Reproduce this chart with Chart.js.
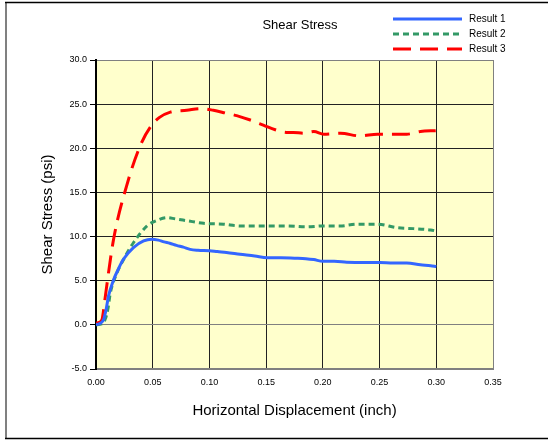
<!DOCTYPE html>
<html>
<head>
<meta charset="utf-8">
<title>Shear Stress</title>
<script src="https://cdn.jsdelivr.net/npm/chart.js@4.4.1/dist/chart.umd.min.js"></script>
<style>
  html, body { margin: 0; padding: 0; background: #fff; }
  #wrap { width: 548px; height: 440px; }
</style>
</head>
<body>
<div id="wrap"><canvas id="shearChart"></canvas></div>
<script>
// values
const seriesNames = ['Result 1', 'Result 2', 'Result 3'];

const disp1 = [0, 0.004, 0.0067, 0.009, 0.011, 0.0155, 0.02, 0.024, 0.033, 0.042, 0.049, 0.055, 0.06, 0.065, 0.071, 0.077, 0.083, 0.09, 0.1, 0.107, 0.115, 0.127, 0.14, 0.151, 0.163, 0.175, 0.185, 0.192, 0.2, 0.21, 0.221, 0.235, 0.25, 0.262, 0.274, 0.286, 0.295, 0.3];
const stress1 = [0, 0.2, 0.6, 1.8, 3.25, 5.1, 6.4, 7.4, 8.75, 9.5, 9.7, 9.6, 9.4, 9.25, 9.0, 8.8, 8.55, 8.45, 8.4, 8.3, 8.2, 8.0, 7.8, 7.6, 7.6, 7.55, 7.5, 7.4, 7.2, 7.2, 7.1, 7.05, 7.05, 7.0, 7.0, 6.8, 6.7, 6.6];

const disp2 = [0, 0.005, 0.008, 0.0105, 0.0126, 0.0185, 0.0243, 0.033, 0.045, 0.055, 0.0626, 0.07, 0.08, 0.095, 0.1125, 0.127, 0.148, 0.168, 0.185, 0.2, 0.215, 0.23, 0.248, 0.2655, 0.28, 0.295, 0.3007];
const stress2 = [0, 0.1, 0.6, 1.8, 3.6, 5.9, 7.4, 9.3, 11.2, 11.9, 12.15, 12.0, 11.8, 11.5, 11.4, 11.2, 11.2, 11.2, 11.1, 11.2, 11.2, 11.4, 11.4, 11.0, 10.9, 10.75, 10.6];

const disp3 = [0, 0.003, 0.0053, 0.0065, 0.0082, 0.0155, 0.027, 0.039, 0.049, 0.056, 0.0655, 0.08, 0.092, 0.1035, 0.114, 0.124, 0.136, 0.148, 0.158, 0.168, 0.174, 0.183, 0.192, 0.2008, 0.2155, 0.233, 0.248, 0.265, 0.274, 0.286, 0.2995];
const stress3 = [0.2, 0.3, 0.6, 1.5, 3.2, 9.7, 15.75, 20.3, 22.6, 23.5, 24.1, 24.3, 24.5, 24.3, 24.0, 23.7, 23.2, 22.6, 22.1, 21.8, 21.8, 21.7, 21.9, 21.6, 21.7, 21.4, 21.6, 21.6, 21.6, 21.9, 22.0];

const xTickMin = 0, xTickMax = 0.35, xTickStep = 0.05;
const yTickMin = -5, yTickMax = 30, yTickStep = 5;

const FONT = '"Liberation Sans", Arial, sans-serif';

function toPoints(xs, ys) {
    return xs.map((x, i) => ({ x: x, y: ys[i] }));
}

// plot background, title, legend and outer frame
const decorPlugin = {
    id: 'decor',
    beforeDraw(chart) {
        const { ctx, chartArea: a } = chart;
        ctx.save();
        ctx.fillStyle = '#FFFFCC';
        ctx.fillRect(a.left, a.top, a.right - a.left, a.bottom - a.top);
        ctx.restore();
    },
    afterDraw(chart) {
        const ctx = chart.ctx;
        ctx.save();

        // outer frame
        ctx.strokeStyle = '#808080';
        ctx.lineWidth = 2;
        ctx.beginPath();
        ctx.moveTo(6, 2);
        ctx.lineTo(6, 439);
        ctx.stroke();
        ctx.strokeStyle = '#000';
        ctx.lineWidth = 1.5;
        ctx.beginPath();
        ctx.moveTo(5, 2.5);
        ctx.lineTo(548, 2.5);
        ctx.moveTo(5, 438.5);
        ctx.lineTo(548, 438.5);
        ctx.stroke();

        // title
        ctx.fillStyle = '#000';
        ctx.font = '13px ' + FONT;
        ctx.textAlign = 'center';
        ctx.textBaseline = 'middle';
        ctx.fillText('Shear Stress', 300, 25);

        // legend
        const rows = [19, 34, 49];
        chart.data.datasets.forEach((ds, i) => {
            ctx.strokeStyle = ds.borderColor;
            ctx.lineWidth = ds.borderWidth;
            ctx.setLineDash(ds.borderDash || []);
            ctx.beginPath();
            ctx.moveTo(393, rows[i]);
            ctx.lineTo(462, rows[i]);
            ctx.stroke();
            ctx.setLineDash([]);
            ctx.fillStyle = '#000';
            ctx.font = '10px ' + FONT;
            ctx.textAlign = 'left';
            ctx.fillText(ds.label, 469, rows[i]);
        });
        ctx.restore();
    }
};

const ctx = document.getElementById('shearChart').getContext('2d');

new Chart(ctx, {
    type: 'line',
    data: {
        datasets: [
            {
                label: seriesNames[0],
                data: toPoints(disp1, stress1),
                borderColor: '#3366FF',
                borderWidth: 3
            },
            {
                label: seriesNames[1],
                data: toPoints(disp2, stress2),
                borderColor: '#339966',
                borderWidth: 3,
                borderDash: [6, 4]
            },
            {
                label: seriesNames[2],
                data: toPoints(disp3, stress3),
                borderColor: '#FF0000',
                borderWidth: 3,
                borderDash: [18, 9]
            }
        ]
    },
    options: {
        responsive: true,
        maintainAspectRatio: false,
        animation: false,
        events: [],
        elements: {
            point: { radius: 0 },
            line: { tension: 0.3, cubicInterpolationMode: 'monotone', fill: false }
        },
        layout: {
            padding: { top: 60, right: 55, left: 0, bottom: 0 }
        },
        plugins: {
            legend: { display: false },
            title: { display: false },
            tooltip: { enabled: false }
        },
        scales: {
            x: {
                type: 'linear',
                min: xTickMin,
                max: xTickMax,
                afterFit(scale) { scale.height = 71; },
                ticks: {
                    stepSize: xTickStep,
                    padding: 8,
                    color: '#000',
                    font: { family: FONT, size: 9 },
                    maxRotation: 0,
                    callback: v => v.toFixed(2)
                },
                grid: {
                    drawTicks: false,
                    lineWidth: 1,
                    color: c => (c.tick && Math.abs(c.tick.value - xTickMax) < 1e-6) ? '#808080' : '#222'
                },
                border: { display: true, color: '#808080', width: 2 },
                title: {
                    display: true,
                    text: 'Horizontal Displacement (inch)',
                    color: '#000',
                    font: { family: FONT, size: 15 },
                    padding: { top: 0, bottom: 20 }
                }
            },
            y: {
                type: 'linear',
                min: yTickMin,
                max: yTickMax,
                afterFit(scale) { scale.width = 96; },
                ticks: {
                    stepSize: yTickStep,
                    padding: 3,
                    color: '#000',
                    font: { family: FONT, size: 9 },
                    callback: v => v.toFixed(1)
                },
                grid: {
                    drawTicks: true,
                    tickLength: 6,
                    tickColor: '#000',
                    lineWidth: 1,
                    color: c => {
                        if (!c.tick) return '#222';
                        if (c.tick.value === yTickMax || c.tick.value === 0) return '#808080';
                        return '#222';
                    }
                },
                border: { display: true, color: '#000', width: 2 },
                title: {
                    display: true,
                    text: 'Shear Stress (psi)',
                    color: '#000',
                    font: { family: FONT, size: 15 },
                    padding: { top: 39, bottom: 0 }
                }
            }
        }
    },
    plugins: [decorPlugin]
});
</script>
</body>
</html>
